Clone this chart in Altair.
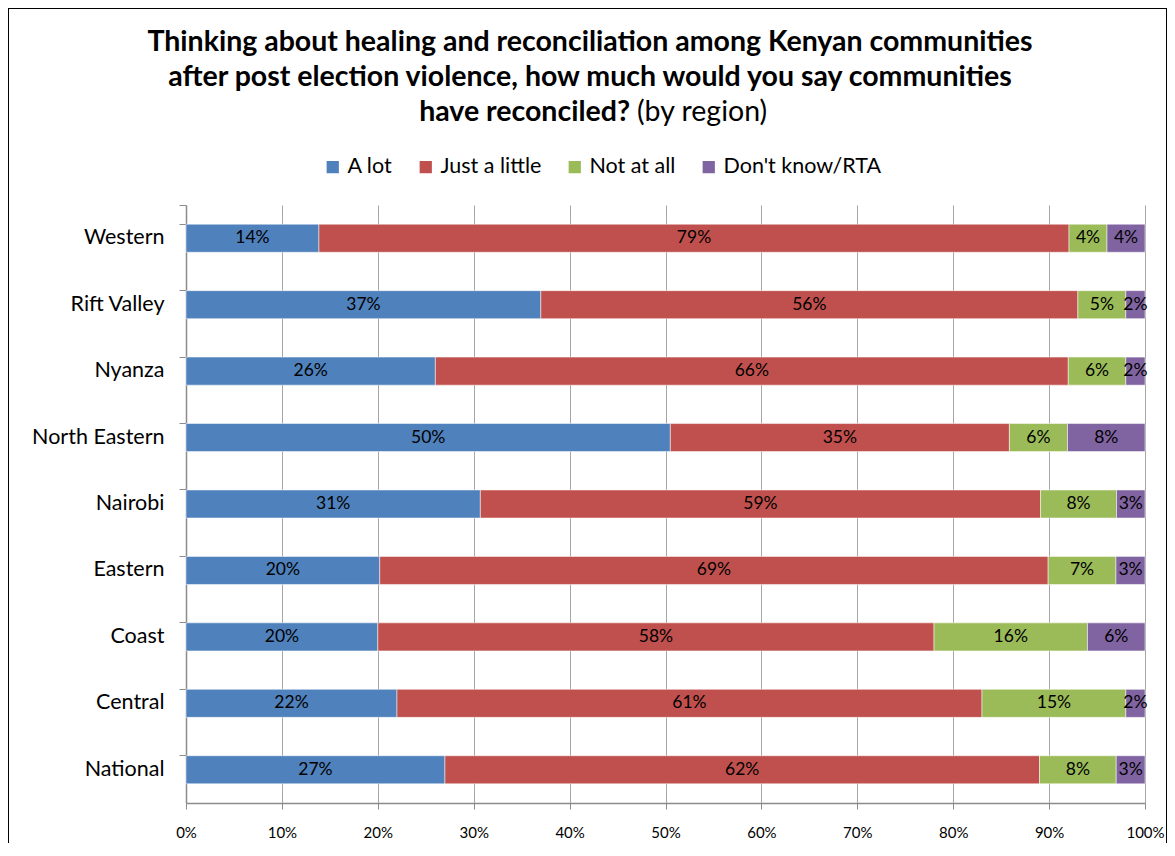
import altair as alt
import pandas as pd

regions = ["Western", "Rift Valley", "Nyanza", "North Eastern", "Nairobi",
           "Eastern", "Coast", "Central", "National"]
categories = ["A lot", "Just a little", "Not at all", "Don't know/RTA"]
a_lot = [14, 37, 26, 50, 31, 20, 20, 22, 27]
just_a_little = [79, 56, 66, 35, 59, 69, 58, 61, 62]
not_at_all = [4, 5, 6, 6, 8, 7, 16, 15, 8]
dont_know = [4, 2, 2, 8, 3, 3, 6, 2, 3]
colors = ["#4F81BD", "#C0504D", "#9BBB59", "#8064A2"]
x_ticks = [0, 0.1, 0.2, 0.3, 0.4, 0.5, 0.6, 0.7, 0.8, 0.9, 1.0]

series = [a_lot, just_a_little, not_at_all, dont_know]
rows = []
for i, r in enumerate(regions):
    for j, (c, vals) in enumerate(zip(categories, series)):
        rows.append({"region": r, "cat": c, "order": j, "value": vals[i],
                     "label": f"{vals[i]}%"})
df = pd.DataFrame(rows)

FONT = "Lato, sans-serif"
W, H = 959, 598

base = alt.Chart(df).transform_stack(
    stack="value", as_=["v0", "v1"], groupby=["region"],
    sort=[alt.SortField("order")], offset="normalize"
).transform_calculate(mid="(datum.v0 + datum.v1) / 2")

yscale = alt.Scale(paddingInner=0.578, paddingOuter=0.289)

bars = base.mark_bar(stroke="white", strokeWidth=0.5).encode(
    y=alt.Y("region:N", sort=regions, scale=yscale,
            axis=alt.Axis(title=None, ticks=False, tickSize=0, labelPadding=22,
                          labelFontSize=21.5, labelFont=FONT, labelColor="black",
                          domain=True, domainColor="#8c8c8c", domainWidth=1.5)),
    x=alt.X("v0:Q", scale=alt.Scale(domain=[0, 1]),
            axis=alt.Axis(title=None, values=x_ticks, format=".0%", grid=True,
                          gridColor="#a6a6a6", gridWidth=1, tickColor="#8c8c8c",
                          tickSize=6, domainColor="#8c8c8c", domainWidth=1.5,
                          labelFontSize=15, labelFont=FONT, labelColor="black",
                          labelPadding=16, labelFlush=False, labelOverlap=False)),
    x2="v1:Q",
    color=alt.Color("cat:N", sort=categories,
                    scale=alt.Scale(domain=categories, range=colors),
                    legend=alt.Legend(title=None, orient="none", direction="horizontal",
                                      legendX=136, legendY=-49, symbolType="square",
                                      symbolSize=150, symbolStrokeWidth=0,
                                      labelFontSize=21.5, labelFont=FONT,
                                      labelColor="black", columnPadding=22,
                                      labelOffset=4, labelLimit=400)),
    order=alt.Order("order:Q"),
)

labels = base.mark_text(fontSize=17.5, font=FONT, color="black").encode(
    y=alt.Y("region:N", sort=regions, scale=yscale,
            axis=alt.Axis(title=None, labels=False, ticks=True, tickSize=7,
                          tickColor="#8c8c8c", bandPosition=0, tickExtra=True,
                          domain=False, orient="left")),
    x=alt.X("mid:Q"),
    text="label:N",
)

one = pd.DataFrame({"a": [0]})
frame = alt.Chart(one).mark_rect(fill=None, stroke="black", strokeWidth=2).encode(
    x=alt.value(-178), x2=alt.value(981), y=alt.value(-197), y2=alt.value(900))

TS = 28.5
t1 = alt.Chart(one).mark_text(
    text="Thinking about healing and reconciliation among Kenyan communities",
    font=FONT, fontSize=TS, fontWeight="bold", color="black", align="center",
    baseline="alphabetic").encode(x=alt.value(404), y=alt.value(-154))
t2 = alt.Chart(one).mark_text(
    text="after post election violence, how much would you say communities",
    font=FONT, fontSize=TS, fontWeight="bold", color="black", align="center",
    baseline="alphabetic").encode(x=alt.value(404), y=alt.value(-119))
t3a = alt.Chart(one).mark_text(
    text="have reconciled?", font=FONT, fontSize=TS, fontWeight="bold",
    color="black", align="right", baseline="alphabetic").encode(
    x=alt.value(444), y=alt.value(-84))
t3b = alt.Chart(one).mark_text(
    text="(by region)", font=FONT, fontSize=TS, fontWeight="normal",
    color="black", align="left", baseline="alphabetic").encode(
    x=alt.value(451), y=alt.value(-84))

chart = alt.layer(bars, labels, frame, t1, t2, t3a, t3b).resolve_axis(
    y="independent").properties(
    width=W, height=H, autosize=alt.AutoSizeParams(type="none"),
    padding={"left": 178, "top": 197, "right": 22, "bottom": 40},
    background="white",
).configure_view(stroke=None)

chart.save("out.html", embed_options={"renderer": "svg", "actions": False})
